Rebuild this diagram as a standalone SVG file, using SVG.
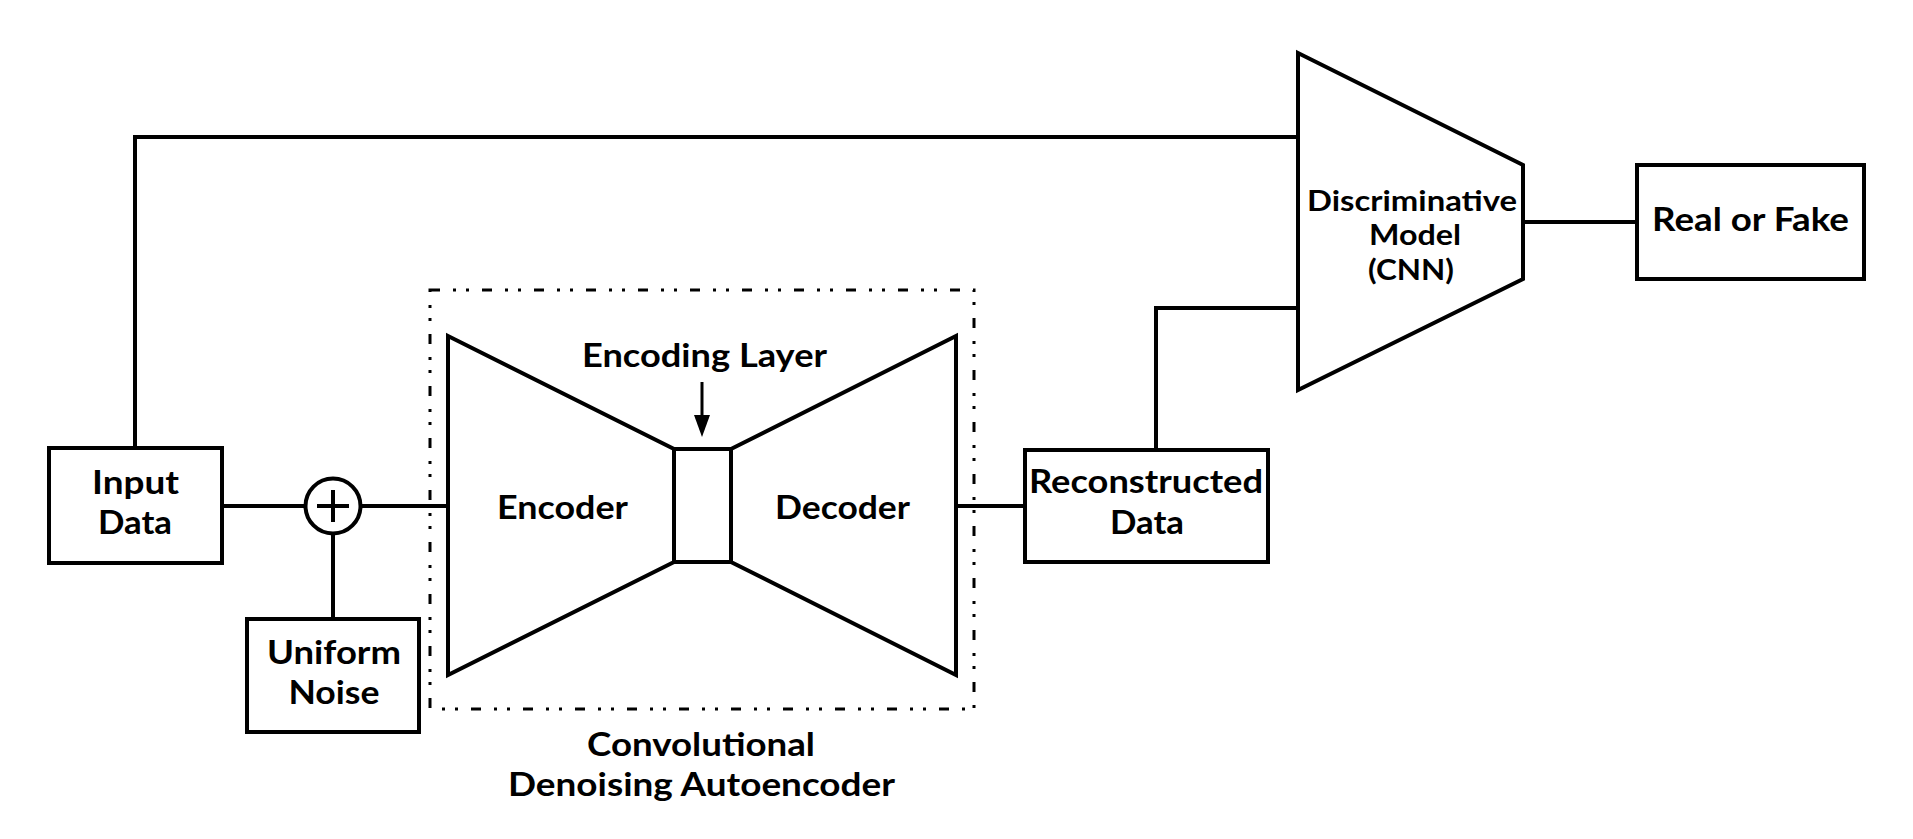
<svg xmlns="http://www.w3.org/2000/svg" width="1913" height="839" viewBox="0 0 1913 839">
  <defs>
    <style>
      .shape { fill: #ffffff; stroke: #000000; stroke-width: 4; stroke-linejoin: miter; }
      .wire { fill: none; stroke: #000000; stroke-width: 4; stroke-linecap: square; }
      .lbl { font-family: Lato, "Open Sans", "Liberation Sans", sans-serif; font-weight: bold; font-size: 32px; fill: #000000; text-anchor: middle; }
      .lbl-s { font-size: 28px; }
      .group-box { fill: none; stroke: #000000; stroke-width: 3; stroke-dasharray: 10 13 3 10 3 13; }
    </style>
  </defs>

  <rect width="1913" height="839" fill="#ffffff"/>

  <g id="connectors">
    <polyline class="wire" points="135,448 135,137 1298,137"/>
    <line class="wire" x1="222" y1="506" x2="305" y2="506"/>
    <line class="wire" x1="361" y1="506" x2="448" y2="506"/>
    <line class="wire" x1="333" y1="619" x2="333" y2="534"/>
    <line class="wire" x1="956" y1="506" x2="1025" y2="506"/>
    <polyline class="wire" points="1156,450 1156,308 1298,308"/>
    <line class="wire" x1="1523" y1="222" x2="1637" y2="222"/>
    <line class="wire" x1="702" y1="382" x2="702" y2="420" style="stroke-width:3;stroke-linecap:butt"/>
    <path d="M694,415 L710,415 L702,437 Z" fill="#000000"/>
  </g>

  <g id="autoencoder-group">
    <rect class="group-box" x="430" y="290" width="544" height="419"/>
    <text class="lbl" x="701" y="756" textLength="228" lengthAdjust="spacingAndGlyphs">Convolutional</text>
    <text class="lbl" x="701.5" y="796" textLength="387" lengthAdjust="spacingAndGlyphs">Denoising Autoencoder</text>
  </g>

  <g id="input-data">
    <rect class="shape" x="49" y="448" width="173" height="115"/>
    <text class="lbl" x="135.5" y="494" textLength="87" lengthAdjust="spacingAndGlyphs">Input</text>
    <text class="lbl" x="135" y="534" textLength="74" lengthAdjust="spacingAndGlyphs">Data</text>
  </g>

  <g id="sum">
    <circle class="shape" cx="333" cy="506" r="27.5"/>
    <line class="wire" x1="317" y1="506" x2="349" y2="506" style="stroke-linecap:butt"/>
    <line class="wire" x1="333" y1="490" x2="333" y2="522" style="stroke-linecap:butt"/>
  </g>

  <g id="uniform-noise">
    <rect class="shape" x="247" y="619" width="172" height="113"/>
    <text class="lbl" x="334" y="664" textLength="134" lengthAdjust="spacingAndGlyphs">Uniform</text>
    <text class="lbl" x="334" y="704" textLength="91" lengthAdjust="spacingAndGlyphs">Noise</text>
  </g>

  <g id="encoder">
    <polygon class="shape" points="448,336 674,449 674,562 448,675"/>
    <text class="lbl" x="562.5" y="519" textLength="131" lengthAdjust="spacingAndGlyphs">Encoder</text>
  </g>

  <g id="encoding-layer">
    <rect class="shape" x="674" y="449" width="57" height="113"/>
    <text class="lbl" x="704.5" y="367" textLength="245" lengthAdjust="spacingAndGlyphs">Encoding Layer</text>
  </g>

  <g id="decoder">
    <polygon class="shape" points="731,449 956,336 956,675 731,562"/>
    <text class="lbl" x="842.5" y="519" textLength="135" lengthAdjust="spacingAndGlyphs">Decoder</text>
  </g>

  <g id="reconstructed-data">
    <rect class="shape" x="1025" y="450" width="243" height="112"/>
    <text class="lbl" x="1146" y="493" textLength="234" lengthAdjust="spacingAndGlyphs">Reconstructed</text>
    <text class="lbl" x="1147" y="534" textLength="74" lengthAdjust="spacingAndGlyphs">Data</text>
  </g>

  <g id="discriminator">
    <polygon class="shape" points="1298,53 1523,165 1523,279 1298,390"/>
    <text class="lbl lbl-s" x="1412" y="211" textLength="210" lengthAdjust="spacingAndGlyphs">Discriminative</text>
    <text class="lbl lbl-s" x="1415" y="245" textLength="92" lengthAdjust="spacingAndGlyphs">Model</text>
    <text class="lbl lbl-s" x="1411" y="280" textLength="86" lengthAdjust="spacingAndGlyphs">(CNN)</text>
  </g>

  <g id="real-or-fake">
    <rect class="shape" x="1637" y="165" width="227" height="114"/>
    <text class="lbl" x="1750.5" y="231" textLength="197" lengthAdjust="spacingAndGlyphs">Real or Fake</text>
  </g>
</svg>
